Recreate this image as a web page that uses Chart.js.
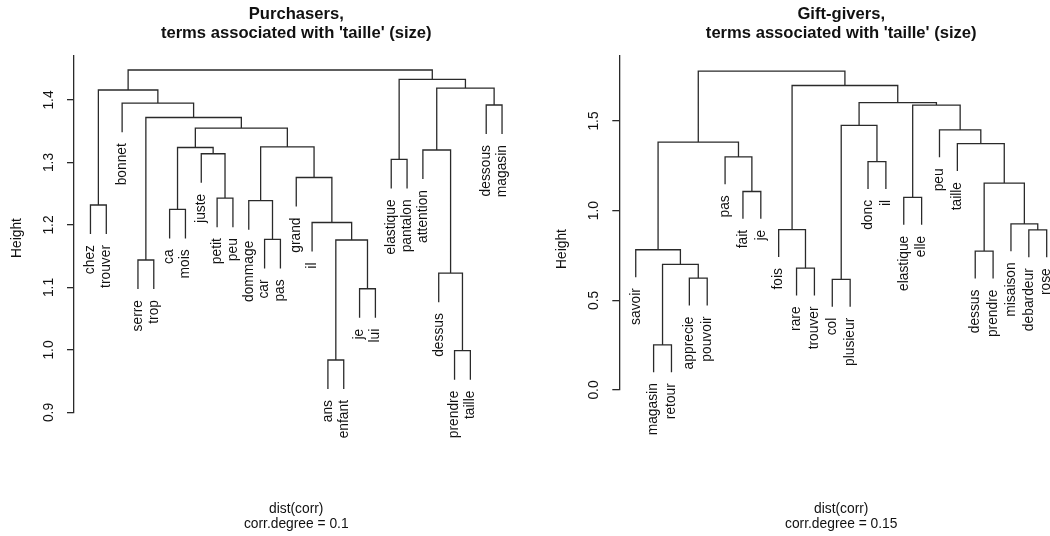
<!DOCTYPE html>
<html>
<head>
<meta charset="utf-8">
<script src="https://cdn.jsdelivr.net/npm/chart.js@4.4.0/dist/chart.umd.min.js"></script>
<style>
  body { margin: 0; background: #fff; }
  #wrap { position: relative; width: 1050px; height: 536px; overflow: hidden; }
  canvas { position: absolute; top: 0; }
</style>
</head>
<body>
<div id="wrap">
  <canvas id="purchasers" width="525" height="536" style="left:0"></canvas>
  <canvas id="giftGivers" width="525" height="536" style="left:525px"></canvas>
</div>
<script>
// leaves in plotting order, merges in R hclust style (negative = leaf, positive = earlier merge)
const purchaserLabels = ["chez", "trouver", "bonnet", "serre", "trop", "ca", "mois", "juste", "petit", "peu",
    "dommage", "car", "pas", "grand", "il", "ans", "enfant", "je", "lui", "elastique", "pantalon",
    "attention", "dessus", "prendre", "taille", "dessous", "magasin"];
const purchaserMerges = [[-16, -17], [-24, -25], [-18, -19], [-23, 2], [-4, -5], [1, 3], [-12, -13], [-6, -7],
    [-1, -2], [-11, 7], [-9, -10], [-15, 6], [-14, 12], [-20, -21], [-8, 11], [-22, 4], [8, 15], [10, 13],
    [17, 18], [5, 19], [-26, -27], [-3, 20], [9, 22], [16, 21], [14, 24], [23, 25]];
const purchaserHeights = [0.984, 0.999, 1.098, 1.123, 1.144, 1.176, 1.177, 1.225, 1.232, 1.239, 1.243, 1.204,
    1.276, 1.305, 1.314, 1.320, 1.324, 1.325, 1.355, 1.372, 1.392, 1.395, 1.416, 1.419, 1.433, 1.448];
const purchaserTicks = [0.9, 1.0, 1.1, 1.2, 1.3, 1.4];

const giftLabels = ["savoir", "magasin", "retour", "apprecie", "pouvoir", "pas", "fait", "je", "fois", "rare",
    "trouver", "col", "plusieur", "donc", "il", "elastique", "elle", "peu", "taille", "dessus", "prendre",
    "misaison", "debardeur", "rose"];
const giftMerges = [[-2, -3], [-12, -13], [-4, -5], [-10, -11], [1, 3], [-20, -21], [-1, 5], [-23, -24], [-9, 4],
    [-22, 8], [-16, -17], [-7, -8], [6, 10], [-14, -15], [-6, 12], [-19, 13], [7, 15], [-18, 16], [2, 14],
    [11, 18], [19, 20], [9, 21], [17, 22]];
const giftHeights = [0.252, 0.617, 0.624, 0.680, 0.700, 0.774, 0.782, 0.893, 0.894, 0.926, 1.074, 1.107, 1.154,
    1.274, 1.300, 1.374, 1.382, 1.450, 1.476, 1.589, 1.602, 1.698, 1.778];
const giftTicks = [0.0, 0.5, 1.0, 1.5];

const FONT = '"Liberation Sans", Arial, sans-serif';
const INK = "#2a2a2a";

// turn merges into the U-shaped segments of the dendrogram (hang = 0.1 like plot.hclust)
function buildTree(labels, merges, heights) {
    const hang = 0.1 * (Math.max(...heights) - Math.min(...heights));
    const tips = new Array(labels.length);
    const centers = [];
    const segs = [];
    merges.forEach(([a, b], i) => {
        const h = heights[i];
        const ends = [a, b].map(c => {
            if (c < 0) {
                tips[-c - 1] = h - hang;
                return { x: -c, y: h - hang };
            }
            return { x: centers[c - 1], y: heights[c - 1] };
        });
        centers.push((ends[0].x + ends[1].x) / 2);
        segs.push(ends[0], { x: ends[0].x, y: h }, { x: ends[1].x, y: h }, ends[1], { x: ends[1].x, y: null });
    });
    return { segs, tips };
}

const dendroText = {
    id: "dendroText",
    afterDraw(chart, args, o) {
        const { ctx } = chart;
        const xs = chart.scales.x, ys = chart.scales.y;
        const rot = (text, x, y, align) => {
            ctx.save();
            ctx.translate(x, y);
            ctx.rotate(-Math.PI / 2);
            ctx.textAlign = align;
            ctx.textBaseline = "middle";
            ctx.fillText(text, 0, 0);
            ctx.restore();
        };
        ctx.save();
        ctx.fillStyle = "#111";
        ctx.font = "13.8px " + FONT;
        o.labels.forEach((lab, i) => {
            rot(lab, xs.getPixelForValue(i + 1), ys.getPixelForValue(o.tips[i]) + 11, "right");
        });
        ys.ticks.forEach(t => rot(t.value.toFixed(1), ys.right - 25, ys.getPixelForValue(t.value), "center"));
        rot("Height", ys.right - 57, o.heightY, "center");

        const cx = xs.getPixelForValue((o.labels.length + 1) / 2);
        ctx.textAlign = "center";
        ctx.textBaseline = "alphabetic";
        o.sub.forEach((s, i) => ctx.fillText(s, cx, 513 + i * 14.5));
        ctx.font = "bold 16.6px " + FONT;
        o.title.forEach((s, i) => ctx.fillText(s, cx, 19 + i * 18.5));
        ctx.restore();
    }
};

function makeChart(id, labels, merges, heights, ticks, setup) {
    const tree = buildTree(labels, merges, heights);
    return new Chart(document.getElementById(id), {
        type: "scatter",
        data: {
            datasets: [{
                data: tree.segs,
                showLine: true,
                spanGaps: false,
                borderColor: INK,
                borderWidth: 1.3,
                pointRadius: 0,
                pointHoverRadius: 0
            }]
        },
        options: {
            responsive: false,
            animation: false,
            devicePixelRatio: 1,
            layout: { padding: setup.padding },
            plugins: {
                legend: { display: false },
                tooltip: { enabled: false },
                dendroText: {
                    labels: labels,
                    tips: tree.tips,
                    title: setup.title,
                    sub: setup.sub,
                    heightY: setup.heightY
                }
            },
            scales: {
                x: { type: "linear", display: false, min: setup.xMin, max: setup.xMax },
                y: {
                    type: "linear",
                    min: setup.yMin,
                    max: setup.yMax,
                    afterBuildTicks: scale => { scale.ticks = ticks.map(v => ({ value: v })); },
                    afterFit: scale => { scale.width = 74; },
                    border: { display: true, color: INK, width: 1.3 },
                    grid: { display: true, drawOnChartArea: false, drawTicks: true, tickLength: 7, color: INK, lineWidth: 1.3 },
                    ticks: { display: false }
                }
            }
        },
        plugins: [dendroText]
    });
}

makeChart("purchasers", purchaserLabels, purchaserMerges, purchaserHeights, purchaserTicks, {
    padding: { left: 0, right: 6.5, top: 56, bottom: 123.5 },
    xMin: -0.04, xMax: 28.04,
    yMin: 0.9, yMax: 1.4704,
    heightY: 238,
    title: ["Purchasers,", "terms associated with 'taille' (size)"],
    sub: ["dist(corr)", "corr.degree = 0.1"]
});

makeChart("giftGivers", giftLabels, giftMerges, giftHeights, giftTicks, {
    padding: { left: 20.3, right: 0, top: 56, bottom: 146 },
    xMin: 0.08, xMax: 24.185,
    yMin: 0, yMax: 1.8625,
    heightY: 249,
    title: ["Gift-givers,", "terms associated with 'taille' (size)"],
    sub: ["dist(corr)", "corr.degree = 0.15"]
});
</script>
</body>
</html>
